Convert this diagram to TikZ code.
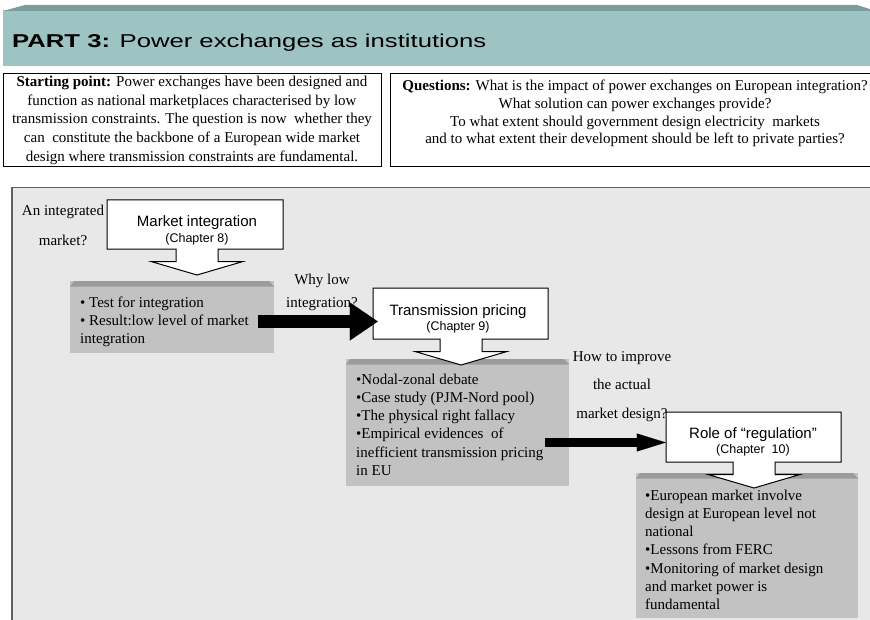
\documentclass[tikz,border=0pt]{standalone}
\usepackage{graphicx}
\usepackage{fontspec}
\setmainfont{Liberation Serif}
\setsansfont{Liberation Sans}
\usetikzlibrary{arrows.meta,calc}

\definecolor{headteal}{RGB}{157,195,195}
\definecolor{headbevel}{RGB}{122,156,156}
\definecolor{panelbg}{RGB}{232,232,232}
\definecolor{paneledge}{RGB}{95,95,95}
\definecolor{boxgray}{RGB}{194,194,194}
\definecolor{boxbevel}{RGB}{155,155,155}

% smaller sans line used for the chapter references
\newcommand{\chapfont}{\sffamily\fontsize{12.5bp}{14bp}\selectfont}

% grey content panel with a darker bevelled top strip
\newcommand{\shadedpanel}[4]{%
  \fill[boxgray] (#1,#2) rectangle (#3,#4);
  \fill[boxbevel] (#1,#2+5.5) -- (#1+4,#2) -- (#3-5,#2) -- (#3,#2+5.5) -- cycle;}

% white "down arrow" callout: box corners (#1,#2)-(#3,#4), stem centred on x=#5
\newcommand{\calloutbox}[5]{%
  \draw[calloutline] (#1,#2) -- (#3,#2) -- (#3,#4) -- (#5+21,#4) -- (#5+21,#4+12.5)
    -- (#5+46,#4+12.5) -- (#5,#4+26) -- (#5-46,#4+12.5) -- (#5-21,#4+12.5)
    -- (#5-21,#4) -- (#1,#4) -- cycle;}

\begin{document}
\begin{tikzpicture}[x=1bp,y=-1bp,
  calloutline/.style={draw=black,line width=1bp,fill=white,line join=miter},
  topbox/.style={draw=black,line width=1.2bp,fill=white,inner sep=0pt,anchor=north west},
  % multi-line texts are placed by the baseline of their last line
  bodytext/.style={font=\fontsize{15bp}{18.3bp}\selectfont,inner sep=0pt,align=left,anchor=base west},
  headtext/.style={font=\sffamily\fontsize{15bp}{16.5bp}\selectfont,inner sep=0pt,align=center,anchor=base},
  boxanchor/.style={inner sep=0pt,draw=none},
  blockarrow/.style={line width=13bp,-{Triangle[length=28bp,width=38bp,line width=0.1pt]}},
  thinblockarrow/.style={line width=9bp,-{Triangle[length=29bp,width=18bp,line width=0.1pt]}}
]
\useasboundingbox (0,0) rectangle (870,620);

% ---- title banner ----
\fill[headteal] (3,10.5) rectangle (876,66);
\fill[headbevel] (3,11) -- (25,5) -- (857,5) -- (876,11) -- cycle;
\node[anchor=base west,inner sep=0pt,font=\sffamily\fontsize{18.6bp}{20bp}\selectfont]
  (title) at (12,48) {\scalebox{1.38}[1]{\textbf{PART 3:} Power exchanges as institutions}};

% ---- starting point and questions ----
\node[topbox,minimum width=378bp,minimum height=93bp] (start) at (3,73) {};
\node[topbox,minimum width=490bp,minimum height=93bp] (questions) at (390,73) {};
\node[font=\fontsize{15bp}{18.75bp}\selectfont,inner sep=0pt,align=center,anchor=base]
  (starttxt) at (192,161.5)
  {\textbf{Starting point:} Power exchanges have been designed and\\
   function as national marketplaces characterised by low\\
   transmission constraints. The question is now\ \ whether they\\
   can\ \ constitute the backbone of a European wide market\\
   design where transmission constraints are fundamental.};
\node[font=\fontsize{15bp}{17.7bp}\selectfont,inner sep=0pt,align=center,anchor=base]
  (questtxt) at (635,144)
  {\textbf{Questions:} What is the impact of power exchanges on European integration?\\
   What solution can power exchanges provide?\\
   To what extent should government design electricity\ \ markets\\
   and to what extent their development should be left to private parties?};

% ---- main panel ----
\fill[panelbg] (12,188) rectangle (876,625);
\draw[paneledge,line width=1bp] (12,188) -- (876,188);
\draw[paneledge,line width=2bp] (12,625) -- (12,187.5);

% ---- grey result panels ----
\shadedpanel{70}{281}{274}{353}
\shadedpanel{346}{359}{569}{486}
\shadedpanel{636}{473}{858}{618}

\node[bodytext] (res1) at (80,343.6)
  {• Test for integration\\• Result:low level of market\\integration};
\node[bodytext] (res2) at (356,475.5)
  {•Nodal-zonal debate\\•Case study (PJM-Nord pool)\\•The physical right fallacy\\
   •Empirical evidences\ \ of\\inefficient transmission pricing\\in EU};
\node[bodytext] (res3) at (645,609.8)
  {•European market involve\\design at European level not\\national\\•Lessons from FERC\\
   •Monitoring of market design\\and market power is\\fundamental};

% ---- guiding questions ----
\node[font=\fontsize{15bp}{30bp}\selectfont,inner sep=0pt,align=center,anchor=base]
  (q1) at (63,246) {An integrated\\market?};
\node[font=\fontsize{15bp}{23bp}\selectfont,inner sep=0pt,align=center,anchor=base]
  (q2) at (322,307) {Why low\\integration?};
\node[font=\fontsize{15bp}{28.5bp}\selectfont,inner sep=0pt,align=center,anchor=base]
  (q3) at (622,418) {How to improve\\the actual\\market design?};

% ---- chapter callouts ----
\calloutbox{107}{200}{283}{249}{197}
\node[boxanchor,minimum width=176bp,minimum height=49bp] (mi) at (195,224.5) {};
\node[headtext] (mitxt) at (197,242.5) {Market integration\\[-1bp]{\chapfont(Chapter 8)}};

\calloutbox{373}{288}{548}{339}{461}
\node[boxanchor,minimum width=175bp,minimum height=51bp] (tp) at (460.5,313.5) {};
\node[headtext] (tptxt) at (458,330.5) {Transmission pricing\\[-1bp]{\chapfont(Chapter 9)}};

\calloutbox{666}{412}{841}{462}{754}
\node[boxanchor,minimum width=175bp,minimum height=50bp] (rr) at (753.5,437) {};
\node[headtext] (rrtxt) at (753,453.5) {Role of “regulation”\\[-1bp]{\chapfont(Chapter\ \ 10)}};

% ---- block arrows between stages ----
\coordinate (a1s) at (258,321.5);
\coordinate (a2s) at (545,442.5);
\draw[blockarrow] (a1s) -- ($(tp.west |- a1s)+(5,0)$);
\draw[thinblockarrow] (a2s) -- (rr.west |- a2s);

\end{tikzpicture}
\end{document}
